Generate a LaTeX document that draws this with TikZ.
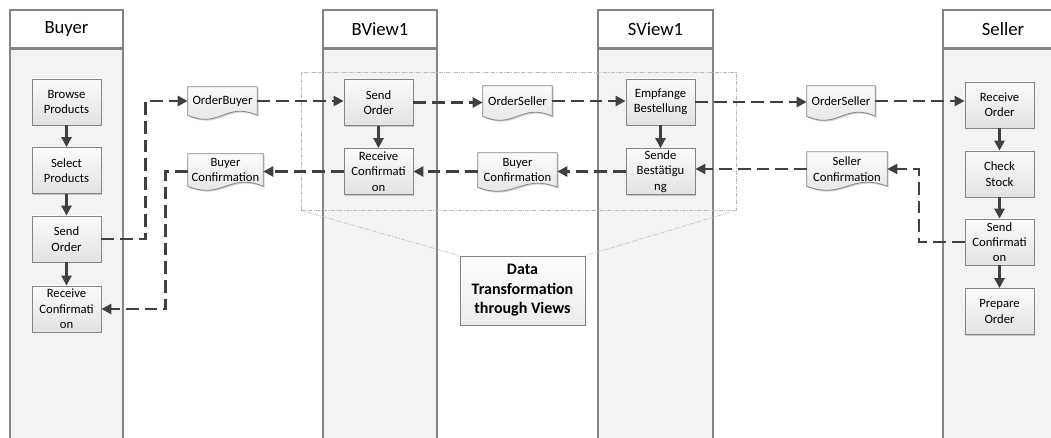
\documentclass[tikz,border=0pt]{standalone}
\usepackage{fontspec}
\setmainfont{Carlito}
\usetikzlibrary{arrows.meta,shadows,calc}

\definecolor{ink}{HTML}{404040}
\definecolor{edge}{HTML}{858585}
\definecolor{lanefill}{HTML}{F3F3F3}
\definecolor{boxtop}{HTML}{FBFBFB}
\definecolor{boxbot}{HTML}{E2E2E2}

\pgfdeclarelayer{lanes}
\pgfdeclarelayer{docs}
\pgfsetlayers{lanes,docs,main}

\tikzset{
  softshadow/.style={drop shadow={shadow xshift=1pt,shadow yshift=-1pt,fill=black,opacity=0.18}},
  lanehead/.style={draw=edge,line width=0.8pt,fill=white,inner sep=0pt,
    font=\fontsize{14}{16}\selectfont},
  lanebody/.style={draw=edge,line width=0.8pt,fill=lanefill,inner sep=0pt},
  procbox/.style={draw=edge,line width=0.6pt,top color=boxtop,bottom color=boxbot,
    minimum width=51.75pt,minimum height=34.5pt,align=center,inner sep=1pt,
    font=\fontsize{9.5}{11.5}\selectfont,softshadow},
  doctext/.style={align=center,inner sep=1pt,font=\fontsize{9.5}{11.5}\selectfont},
  docline/.style={draw=edge,line width=0.6pt,top color=boxtop,bottom color=boxbot,softshadow},
  groupbox/.style={draw=gray!55,line width=0.45pt,dash pattern=on 3pt off 1pt on 0.6pt off 1pt},
  noteline/.style={draw=gray!55,line width=0.45pt,dash pattern=on 3pt off 1pt on 0.6pt off 1pt},
  notebox/.style={draw=edge,line width=0.6pt,top color=white,bottom color=boxbot!70,
    minimum width=93.75pt,minimum height=51.75pt,align=center,inner sep=1pt,
    font=\fontsize{12}{14.5}\selectfont\bfseries,softshadow},
  seq/.style={ink,line width=2pt,-{Triangle[length=7.5pt,width=7.5pt]}},
  flow/.style={ink,line width=2pt,dash pattern=on 9.5pt off 4.5pt,
    -{Triangle[length=7.5pt,width=7.5pt]}},
  flowthin/.style={ink,line width=1.6pt,dash pattern=on 9.5pt off 4.5pt,
    -{Triangle[length=7.5pt,width=7.5pt]}},
}

% wavy-bottom document outline around a text node
\newcommand\docoutline[1]{%
  \path[docline] (#1.north west) -- (#1.north east) -- (#1.south east)
    .. controls ($(#1.south east)!0.45!(#1.south west)+(0,-14)$)
       and ($(#1.south west)!0.45!(#1.south east)+(0,14)$) .. (#1.south west) -- cycle;}

\begin{document}
\begin{tikzpicture}[x=0.75pt,y=-0.75pt]
\useasboundingbox (0,0) rectangle (1051,438);

% swimlanes
\begin{pgfonlayer}{lanes}
  \node[lanehead,minimum width=84.75pt,minimum height=28.5pt] (hbuyer) at (66.5,29) {Buyer};
  \node[lanebody,minimum width=84.75pt,minimum height=300pt,anchor=north] (lbuyer) at (hbuyer.south) {};
  \node[lanehead,minimum width=85.5pt,minimum height=28.5pt] (hbview) at (380,29) {BView1};
  \node[lanebody,minimum width=85.5pt,minimum height=300pt,anchor=north] (lbview) at (hbview.south) {};
  \node[lanehead,minimum width=86.25pt,minimum height=28.5pt] (hsview) at (655.5,29) {SView1};
  \node[lanebody,minimum width=86.25pt,minimum height=300pt,anchor=north] (lsview) at (hsview.south) {};
  \node[lanehead,minimum width=90pt,minimum height=28.5pt] (hseller) at (1003,29) {Seller};
  \node[lanebody,minimum width=90pt,minimum height=300pt,anchor=north] (lseller) at (hseller.south) {};
\end{pgfonlayer}

% view group and its note
\node[groupbox,minimum width=326.25pt,minimum height=103.5pt] (grp) at (518.5,141) {};
\node[notebox] (note) at (522.5,290.5) {Data\\Transformation\\through Views};
\draw[noteline] (grp.south west) -- (note.north west);
\draw[noteline] (grp.south east) -- (note.north east);

% Buyer
\node[procbox] (bbp) at (66.5,102) {Browse\\Products};
\node[procbox] (bsp) at (66.5,170.5) {Select\\Products};
\node[procbox] (bso) at (66.5,239) {Send\\Order};
\node[procbox] (brc) at (66.5,309) {Receive\\Confirmati\\on};

% BView1
\node[procbox] (vso) at (378.5,102.5) {Send\\Order};
\node[procbox] (vrc) at (378.5,171.5) {Receive\\Confirmati\\on};

% SView1
\node[procbox] (sem) at (660.5,102) {Empfange\\Bestellung};
\node[procbox] (ssb) at (660.5,171.5) {Sende\\Bestätigu\\ng};

% Seller
\node[procbox] (sro) at (999.5,105) {Receive\\Order};
\node[procbox] (scs) at (999.5,174) {Check\\Stock};
\node[procbox] (ssc) at (999.5,242) {Send\\Confirmati\\on};
\node[procbox] (spo) at (999.5,311.5) {Prepare\\Order};

% documents
\node[doctext,minimum width=51.75pt,minimum height=21pt] (ob) at (222.5,101) {OrderBuyer};
\node[doctext,minimum width=56.25pt,minimum height=24pt] (bca) at (225.5,170) {Buyer\\Confirmation};
\node[doctext,minimum width=51.75pt,minimum height=22.5pt] (osa) at (517.5,101) {OrderSeller};
\node[doctext,minimum width=59.25pt,minimum height=25.5pt] (bcb) at (517.5,170) {Buyer\\Confirmation};
\node[doctext,minimum width=51pt,minimum height=22.5pt] (osb) at (841,101) {OrderSeller};
\node[doctext,minimum width=60pt,minimum height=25.5pt] (sc) at (847,169) {Seller\\Confirmation};

\begin{pgfonlayer}{docs}
  \docoutline{ob}
  \docoutline{bca}
  \docoutline{osa}
  \docoutline{bcb}
  \docoutline{osb}
  \docoutline{sc}
\end{pgfonlayer}

% sequence within lanes
\draw[seq] (bbp.south) -- (bsp.north);
\draw[seq] (bsp.south) -- (bso.north);
\draw[seq] (bso.south) -- (brc.north);
\draw[seq] (vso.south) -- (vrc.north);
\draw[seq] (sem.south) -- (ssb.north);
\draw[seq] (sro.south) -- (scs.north);
\draw[seq] (scs.south) -- (ssc.north);
\draw[seq] (ssc.south) -- (spo.north);

% order flow
\draw[flow] (bso.east) -- ++(44,0) |- (ob.west);
\draw[flow] (ob.east) -- (ob.east -| vso.west);
\draw[flow] (vso.east) -- (vso.east -| osa.west);
\draw[flow] (osa.east) -- (osa.east -| sem.west);
\draw[flow] (sem.east) -- (sem.east -| osb.west);
\draw[flow] (osb.east) -- (osb.east -| sro.west);

% confirmation flow
\draw[flowthin] (ssc.west) -- ++(-46,0) |- (sc.east);
\draw[flowthin] (sc.west) -- (sc.west -| ssb.east);
\draw[flow] (ssb.west) -- (ssb.west -| bcb.east);
\draw[flow] (bcb.west |- vrc.east) -- (vrc.east);
\draw[flow] (vrc.west) -- (vrc.west -| bca.east);
\draw[flow] (bca.west |- vrc.west) -- ++(-22,0) |- (brc.east);
\end{tikzpicture}
\end{document}
